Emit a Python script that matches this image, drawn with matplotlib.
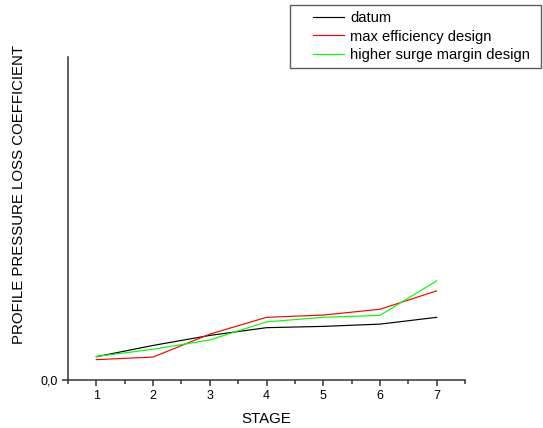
import matplotlib
matplotlib.use("Agg")
import matplotlib.pyplot as plt
from matplotlib.ticker import MultipleLocator, FixedLocator
from matplotlib.legend_handler import HandlerLine2D

plt.rcParams['font.family'] = ['Liberation Sans', 'DejaVu Sans']

stages = [1, 2, 3, 4, 5, 6, 7]
datum = [0.0072, 0.0107, 0.0138, 0.0162, 0.0166, 0.0173, 0.0194]
max_eff = [0.0063, 0.0071, 0.0142, 0.0194, 0.0201, 0.0219, 0.0276]
surge = [0.0073, 0.0095, 0.0124, 0.0180, 0.0194, 0.0200, 0.0307]
series_names = ["datum", "max efficiency design", "higher surge margin design"]

fig = plt.figure(figsize=(5.43, 4.28), dpi=100)
ax = fig.add_axes([68/543, 48/428, (465-68)/543, (380-57)/428])

l1, = ax.plot(stages, datum, color='black', lw=0.85, label=series_names[0])
l2, = ax.plot(stages, max_eff, color='#ff0000', lw=0.85, label=series_names[1])
l3, = ax.plot(stages, surge, color='#00ff00', lw=0.85, label=series_names[2])

ax.set_xlim(0.5, 7.5)
ax.set_ylim(0, 0.1)
ax.spines['top'].set_visible(False)
ax.spines['right'].set_visible(False)
for s in ('left', 'bottom'):
    ax.spines[s].set_linewidth(1.1)
    ax.spines[s].set_color('#333333')

ax.xaxis.set_major_locator(MultipleLocator(1))
ax.xaxis.set_minor_locator(MultipleLocator(0.5))
ax.yaxis.set_major_locator(FixedLocator([0.0]))
ax.set_yticklabels(['0,0'])
ax.tick_params(axis='both', which='major', direction='out', length=4.5, width=1.1,
               labelsize=9, color='#333333', pad=3)
ax.tick_params(axis='x', which='minor', direction='out', length=2.8, width=1.1, color='#333333')

ax.set_xlabel('STAGE', fontsize=10.8, labelpad=7)
ax.set_ylabel('PROFILE PRESSURE LOSS COEFFICIENT', fontsize=10.8)
ax.yaxis.set_label_coords(-0.105, 0.573)

fs = 10.6
leg = fig.legend(handles=[l1, l2, l3], loc='upper left',
                 bbox_to_anchor=(290/543, 1 - 5/428, (541-290)/543, 0), mode='expand',
                 frameon=True, fancybox=False, edgecolor='#333333', fontsize=fs,
                 handlelength=3.27, handletextpad=0.41, borderaxespad=0, borderpad=0.42,
                 labelspacing=0.3,
                 handler_map={l: HandlerLine2D(xpad=1.16) for l in (l1, l2, l3)})
leg.get_frame().set_linewidth(1.0)

fig.savefig('out.png', dpi=100)
